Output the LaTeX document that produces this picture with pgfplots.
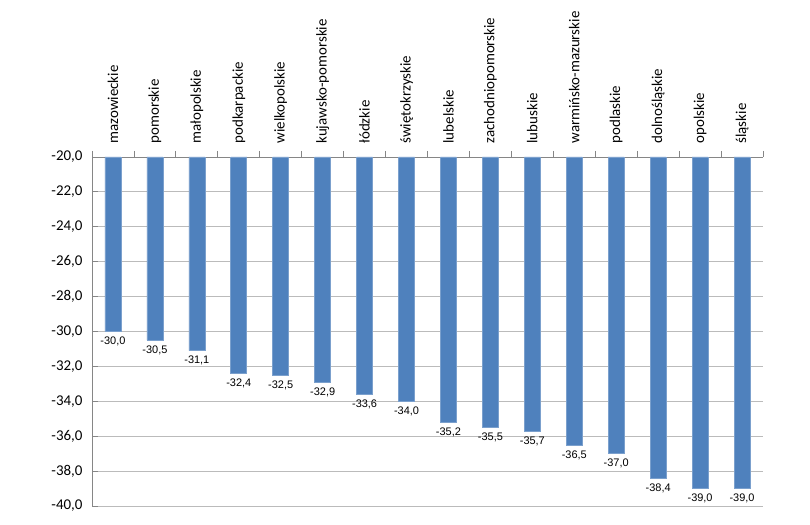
\documentclass[border=0pt]{standalone}
\usepackage{pgfplots}
\pgfplotsset{compat=1.18}
\usepackage{fontspec}
\setmainfont{Carlito}
\newfontfamily\arialf{Liberation Sans}
\definecolor{barblue}{HTML}{4F81BD}
\definecolor{gridgray}{HTML}{BBBBBB}
\definecolor{axisgray}{HTML}{868686}

\begin{document}
\begin{tikzpicture}
\begin{axis}[
  name=ax, at={(0,0)}, anchor=south west,
  scale only axis, width=671bp, height=349bp,
  xmin=-0.5, xmax=15.5, ymin=-40, ymax=-20,
  axis x line*=top, axis y line*=left,
  axis line style={draw=axisgray, line width=0.8pt},
  tick style={draw=axisgray, line width=0.8pt},
  tick align=inside, major tick length=6bp,
  ytick={-40,-38,...,-20},
  ymajorgrids, grid style={draw=gridgray, line width=0.8pt},
  xtick={-0.5,0.5,...,15.5},
  x tick label as interval,
  xticklabels={mazowieckie,pomorskie,małopolskie,podkarpackie,wielkopolskie,kujawsko-pomorskie,łódzkie,świętokrzyskie,lubelskie,zachodniopomorskie,lubuskie,warmińsko-mazurskie,podlaskie,dolnośląskie,opolskie,śląskie},
  x tick label style={rotate=90, anchor=west, font=\fontsize{15}{18}\selectfont},
  xticklabel shift=4bp,
  y tick label style={font=\fontsize{15}{18}\selectfont,
    /pgf/number format/.cd, fixed, fixed zerofill, precision=1, use comma, assume math mode=true},
  yticklabel shift=6bp,
  ybar, bar width=16bp,
  nodes near coords,
  every node near coord/.append style={anchor=north, font=\arialf\fontsize{11}{13}\selectfont, yshift=-2bp,
    /pgf/number format/.cd, fixed, fixed zerofill, precision=1, use comma, assume math mode=true},
]
\addplot[fill=barblue, draw=barblue!75!white, line width=0.6pt] coordinates {
  (0,-30.0) (1,-30.5) (2,-31.1) (3,-32.4) (4,-32.5) (5,-32.9) (6,-33.6) (7,-34.0)
  (8,-35.2) (9,-35.5) (10,-35.7) (11,-36.5) (12,-37.0) (13,-38.4) (14,-39.0) (15,-39.0)
};
\end{axis}
\pgfresetboundingbox
\path ([shift={(-92bp,-19bp)}]ax.south west) rectangle ([shift={(718bp,506bp)}]ax.south west);
\end{tikzpicture}
\end{document}
